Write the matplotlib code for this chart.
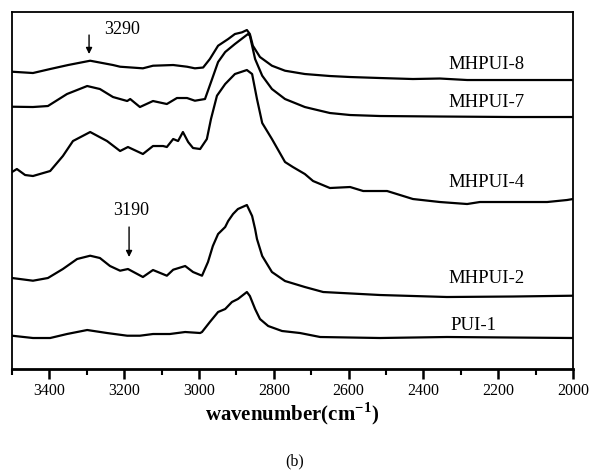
import matplotlib
matplotlib.use("Agg")
import matplotlib.pyplot as plt
from matplotlib.ticker import MultipleLocator

plt.rcParams['font.family'] = ['Liberation Serif', 'DejaVu Serif']

# wavenumbers (cm^-1) and intensities (arbitrary units, stacked offsets)
wn_mhpui8 = [3500, 3444, 3398, 3350, 3291, 3230, 3211, 3150, 3123, 3069, 3032, 3011, 2989,
             2971, 2949, 2922, 2904, 2885, 2872, 2864, 2856, 2837, 2805, 2770, 2717, 2650,
             2596, 2516, 2428, 2356, 2283, 2160, 2000]
y_mhpui8 = [297.3, 296, 300, 304, 308.3, 304, 302.3, 300.7, 303.3, 304, 302.3, 300.7, 301.5,
            310, 323.3, 330, 335, 336.7, 339, 335, 323.3, 312, 303.3, 298.3, 295, 293,
            292, 291, 290, 290.5, 289, 289, 289]

wn_mhpui7 = [3500, 3444, 3404, 3353, 3299, 3265, 3230, 3192, 3184, 3158, 3123, 3086, 3059,
             3032, 3011, 2984, 2965, 2949, 2930, 2904, 2869, 2864, 2850, 2831, 2805, 2770,
             2717, 2695, 2650, 2596, 2516, 2356, 2160, 2000]
y_mhpui7 = [262.3, 262, 263, 275, 283, 280, 272, 268, 270, 262, 268, 265, 271,
            271, 268.3, 270, 290, 307, 317, 325, 335, 333.3, 310, 293.3, 280, 270,
            262, 260, 256, 254, 253, 252.5, 252, 252]

wn_mhpui4 = [3500, 3487, 3465, 3444, 3398, 3364, 3337, 3291, 3246, 3211, 3190, 3150, 3123,
             3096, 3086, 3069, 3056, 3043, 3029, 3016, 2997, 2979, 2968, 2952, 2930, 2904,
             2872, 2858, 2845, 2831, 2805, 2770, 2749, 2717, 2695, 2650, 2596, 2561, 2497,
             2428, 2356, 2283, 2249, 2069, 2016, 2000]
y_mhpui4 = [197, 200, 194, 193, 198, 213, 228, 237, 228, 218, 222, 215, 223,
            223, 222, 230, 228, 237, 227, 221, 220, 230, 250, 273.3, 285, 295,
            299, 295, 270, 246, 230, 207, 202, 195, 188, 181, 182, 178, 178,
            170, 167, 165, 167, 167, 169, 170]

wn_mhpui2 = [3500, 3479, 3444, 3404, 3364, 3326, 3291, 3265, 3238, 3211, 3190, 3150, 3123,
             3086, 3069, 3037, 3016, 2992, 2976, 2963, 2949, 2930, 2922, 2909, 2896, 2872,
             2858, 2850, 2845, 2831, 2805, 2770, 2717, 2668, 2516, 2337, 2160, 2000]
y_mhpui2 = [91, 90, 88.3, 91, 100, 110, 113.3, 111, 103, 98.3, 100, 92, 99,
            93.3, 99.3, 103, 97, 93.3, 107, 123, 135, 142, 148, 155, 160, 164,
            153, 140, 130, 113, 97, 88, 82, 77, 74, 72, 72.5, 73.3]

wn_pui1 = [3500, 3444, 3398, 3353, 3299, 3246, 3192, 3158, 3123, 3078, 3037, 2997, 2992,
           2971, 2949, 2930, 2912, 2896, 2872, 2864, 2850, 2837, 2815, 2778, 2730, 2676,
           2516, 2337, 2000]
y_pui1 = [33.3, 31, 31, 35, 39, 36, 33.3, 33.3, 35, 35, 37, 36, 37,
          47, 57, 60, 67, 70, 77, 73, 60, 50, 43, 38, 36, 32,
          31, 32, 31]

series_labels = ["MHPUI-8", "MHPUI-7", "MHPUI-4", "MHPUI-2", "PUI-1"]
label_y = [306, 268, 188, 92, 45]
label_x = [2230, 2230, 2230, 2230, 2265]

fig = plt.figure(figsize=(5.95, 4.77), dpi=100)
ax = fig.add_axes([0.0202, 0.2243, 0.9428, 0.7484])

for wn, y in [(wn_mhpui8, y_mhpui8), (wn_mhpui7, y_mhpui7), (wn_mhpui4, y_mhpui4),
              (wn_mhpui2, y_mhpui2), (wn_pui1, y_pui1)]:
    ax.plot(wn, y, color='black', lw=1.6, solid_joinstyle='round')

for name, lx, ly in zip(series_labels, label_x, label_y):
    ax.text(lx, ly, name, ha='center', va='center', fontsize=13.5)

# annotations
ax.annotate("", xy=(3294, 315), xytext=(3294, 334),
            arrowprops=dict(arrowstyle='-|>', color='black', lw=1.0,
                            mutation_scale=9, shrinkA=0, shrinkB=0))
ax.text(3206, 341, "3290", ha='center', va='center', fontsize=13)
ax.annotate("", xy=(3187, 112), xytext=(3187, 142),
            arrowprops=dict(arrowstyle='-|>', color='black', lw=1.0,
                            mutation_scale=9, shrinkA=0, shrinkB=0))
ax.text(3182, 160, "3190", ha='center', va='center', fontsize=13)

ax.set_xlim(3500, 2000)
ax.set_ylim(0, 357)
ax.xaxis.set_major_locator(MultipleLocator(200))
ax.xaxis.set_minor_locator(MultipleLocator(100))
ax.tick_params(axis='x', which='major', direction='out', length=7, width=1.8, labelsize=11.5, pad=2)
ax.tick_params(axis='x', which='minor', direction='out', length=4, width=1.5)
ax.set_yticks([])
for s in ax.spines.values():
    s.set_linewidth(1.3)
ax.spines['bottom'].set_linewidth(2.0)

ax.set_xlabel(r"wavenumber(cm$^{\mathregular{-1}}$)", fontsize=15, fontweight='bold', labelpad=1)
fig.text(0.4955, 0.033, "(b)", ha='center', va='center', fontsize=11.5)

fig.savefig("out.png", dpi=100)
